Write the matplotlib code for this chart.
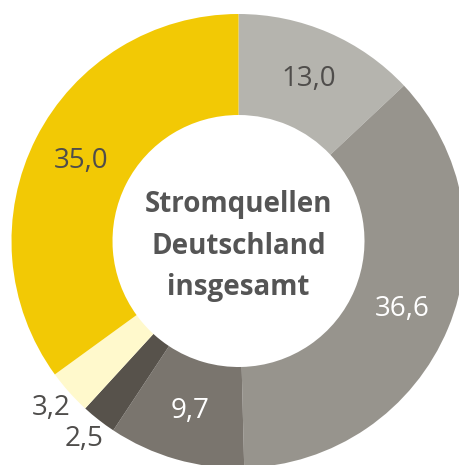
import numpy as np
import matplotlib.pyplot as plt

# Stromquellen Deutschland insgesamt (Anteile in %)
werte = [13.0, 36.6, 9.7, 2.5, 3.2, 35.0]
beschriftung = ["13,0", "36,6", "9,7", "2,5", "3,2", "35,0"]
farben = ["#b5b4ae", "#97948d", "#7a756e", "#57524b", "#fff9cc", "#f2c905"]
textfarben = ["#4f4d4b", "#ffffff", "#ffffff", "#4f4d4b", "#4f4d4b", "#4f4d4b"]
aussen = [False, False, False, True, True, False]
titel = "Stromquellen\nDeutschland\ninsgesamt"

plt.rcParams["font.family"] = ["Open Sans", "DejaVu Sans"]

R = 227
r_innen = 126

fig = plt.figure(figsize=(4.6, 4.65), dpi=100)
ax = fig.add_axes([0, 0, 1, 1])
ax.pie(werte, colors=farben, startangle=90, counterclock=False, radius=R,
       wedgeprops=dict(width=R - r_innen, linewidth=0))

# labels at the middle of each wedge
start = 90
for w, txt, col, out in zip(werte, beschriftung, textfarben, aussen):
    mitte = np.deg2rad(start - w * 360 / 100 / 2)
    start -= w * 360 / 100
    rad = 251 if out else 177
    ax.text(rad * np.cos(mitte), rad * np.sin(mitte), txt, color=col,
            fontsize=20, fontweight="normal", ha="center", va="center")

ax.text(0, -5, titel, ha="center", va="center", fontsize=20,
        fontweight="bold", color="#555555", linespacing=1.58)

ax.set_xlim(-238.5, 221.5)
ax.set_ylim(-224, 241)
ax.set_aspect("equal")
ax.axis("off")

fig.savefig("out.png", dpi=100)
